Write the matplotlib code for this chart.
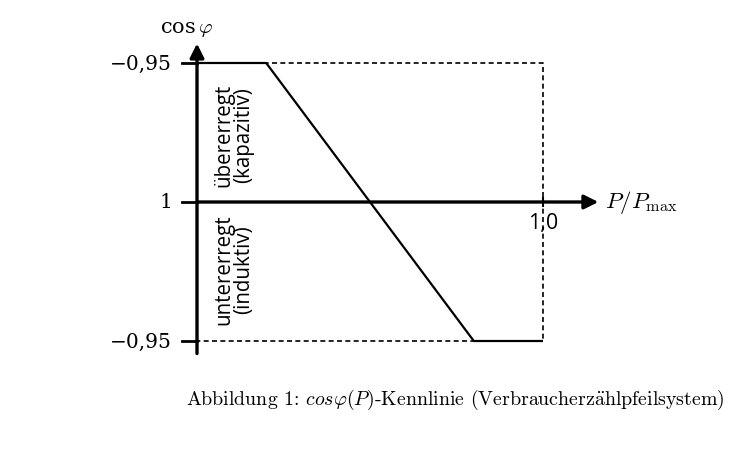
import matplotlib
matplotlib.use("Agg")
import matplotlib.pyplot as plt

# characteristic cos(phi) over P/Pmax (y: +1 = -0,95 overexcited, 0 = 1, -1 = -0,95 underexcited)
p_pts = [0.0, 0.2, 0.8, 1.0]
q_pts = [1.0, 1.0, -1.0, -1.0]
ytick_pos = [1.0, 0.0, -1.0]
ytick_labels = ["\u22120,95", "1", "\u22120,95"]
xtick_pos = [1.0]
xtick_labels = ["1,0"]

plt.rcParams["mathtext.fontset"] = "cm"
fig = plt.figure(figsize=(7.54, 4.56), dpi=100)
ax = fig.add_axes([0, 0, 1, 1])
ax.set_xlim(-197 / 346, (754 - 197) / 346)
ax.set_ylim((203 - 456) / 139, 203 / 139)
ax.axis("off")

# dashed frame
ax.plot([0, 1, 1, 0], [1, 1, -1, -1], ls=(0, (3, 2)), color="black", lw=1.2)
# characteristic
ax.plot(p_pts, q_pts, color="black", lw=1.6, solid_capstyle="butt")

# axes with arrows
ax.annotate("", xy=(0, 1.14), xytext=(0, -1.09),
            arrowprops=dict(arrowstyle="-|>,head_width=0.3,head_length=0.6", lw=2.4,
                            color="black", mutation_scale=14, shrinkA=0, shrinkB=0))
ax.annotate("", xy=(1.16, 0), xytext=(0, 0),
            arrowprops=dict(arrowstyle="-|>,head_width=0.3,head_length=0.6", lw=2.4,
                            color="black", mutation_scale=14, shrinkA=0, shrinkB=0))

serif = ["DejaVu Serif"]
for y, lab in zip(ytick_pos, ytick_labels):
    ax.plot([-0.042, 0], [y, y], color="black", lw=2.0)
    ax.text(-0.072, y, lab, ha="right", va="center", fontsize=14.5, family=serif)
for x, lab in zip(xtick_pos, xtick_labels):
    ax.plot([x, x], [-0.03, 0.03], color="black", lw=1.5)
    ax.text(x, -0.15, lab, ha="center", va="center", fontsize=15.5, family="Open Sans")

ax.text(-0.03, 1.25, r"cos$\,\varphi$", ha="center", va="center", fontsize=15, family=serif)
ax.text(1.18, 0.0, r"$P/P_{\mathrm{max}}$", ha="left", va="center", fontsize=16.5)

ax.text(0.107, 0.49, "übererregt\n(kapazitiv)", rotation=90, ha="center", va="center",
        fontsize=14.8, family="Open Sans", linespacing=0.95)
ax.text(0.107, -0.48, "untererregt\n(induktiv)", rotation=90, ha="center", va="center",
        fontsize=14.8, family="Open Sans", linespacing=0.95)

ax.text(0.745, (203 - 400) / 139,
        r"$\text{Abbildung 1: }cos\varphi(P)\text{-Kennlinie (Verbraucherz}\ddot{\text{a}}\text{hlpfeilsystem)}$",
        ha="center", va="center", fontsize=14.3)

fig.savefig("out.png", dpi=100, facecolor="white")
